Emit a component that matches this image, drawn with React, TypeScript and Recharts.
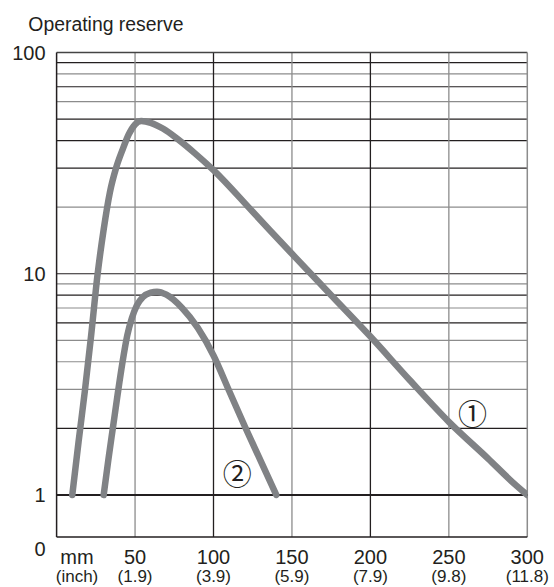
import React from 'react';
import { LineChart, Line, XAxis, YAxis, ReferenceLine, ReferenceDot } from 'recharts';

// ---- data ----
const distanceTicks = [13, 50, 100, 150, 200, 250, 300];
const mmLabels = ['mm', '50', '100', '150', '200', '250', '300'];
const inchLabels = ['(inch)', '(1.9)', '(3.9)', '(5.9)', '(7.9)', '(9.8)', '(11.8)'];

const reserveTicks = [0, 1, 10, 100];
const reserveLabels = ['0', '1', '10', '100'];

const verticalGrid = [50, 100, 150, 200, 250];
const horizontalGrid = [2, 3, 4, 5, 6, 7, 8, 9, 10, 20, 30, 40, 50, 60, 70, 80, 90];

const curve1Distance = [10, 14, 18, 22, 26, 30, 34, 38, 42, 46, 50, 54, 60, 68, 77, 88, 100, 125, 150, 175, 200, 225, 250, 275, 290, 300];
const curve1Reserve = [1, 1.74, 2.95, 5.25, 9.77, 15.85, 23.4, 30.2, 36.3, 42.7, 47.3, 49, 48.1, 45.2, 40.7, 35.1, 29.4, 19.05, 12.3, 8.0, 5.2, 3.31, 2.14, 1.46, 1.153, 1];

const curve2Distance = [30, 33, 36, 39, 42, 45, 48, 51, 55, 60, 64, 70, 80, 90, 100, 110, 120, 130, 140];
const curve2Reserve = [1, 1.445, 2.04, 2.88, 3.98, 5.25, 6.31, 7.16, 7.85, 8.22, 8.3, 8.04, 7.0, 5.69, 4.27, 2.95, 2.04, 1.43, 1];

const annotationLabels = ['\u2460', '\u2461'];
const annotationDistance = [265, 115.2];
const annotationReserve = [2.38, 1.27];

// ---- styles ----
const FLOOR = -0.19; // axis position of reserve 0 (linear band below 1)
const toAxis = (v: number) => (v >= 1 ? Math.log10(v) : FLOOR * (1 - v));

const DARK = '#231f20';
const GRAY = '#8c8c8c';
const CURVE = '#808285';
const FONT = '"Liberation Sans", Arial, sans-serif';
const darkHorizontal = new Set([2, 6, 8, 10, 30, 40, 50, 70, 90]);
const darkVertical = new Set([100, 200]);

const curve1 = curve1Distance.map((x, i) => ({ x, v: curve1Reserve[i] }));
const curve2 = curve2Distance.map((x, i) => ({ x, v: curve2Reserve[i] }));
const annotations = annotationLabels.map((t, i) => ({ t, x: annotationDistance[i], v: annotationReserve[i] }));

const XTick = (props: any) => {
  const { x, y, payload } = props;
  const i = distanceTicks.indexOf(payload.value);
  if (i < 0) return null;
  return (
    <g>
      <text x={x} y={y + 26.5} textAnchor="middle" fontSize={20} fill={DARK} fontFamily={FONT}>
        {mmLabels[i]}
      </text>
      <text x={x} y={y + 44.5} textAnchor="middle" fontSize={17} fill={DARK} fontFamily={FONT}>
        {inchLabels[i]}
      </text>
    </g>
  );
};

const YTick = (props: any) => {
  const { x, y, payload } = props;
  const i = reserveTicks.findIndex((t) => Math.abs(toAxis(t) - payload.value) < 1e-9);
  if (i < 0) return null;
  const isFloor = reserveTicks[i] === 0;
  return (
    <text x={x} y={y + (isFloor ? 19 : 7)} textAnchor="end" fontSize={20} fill={DARK} fontFamily={FONT}>
      {reserveLabels[i]}
    </text>
  );
};

const Title = () => (
  <text x={28.3} y={30.7} fontSize={19.4} fill={DARK} fontFamily={FONT}>
    Operating reserve
  </text>
);

export default function App() {
  return (
    <div style={{ position: 'absolute', left: 0, top: 0, background: '#fff' }}>
      <LineChart width={554} height={587} margin={{ top: 52.5, right: 26.7, bottom: 0, left: 0 }}>
        <XAxis
          type="number"
          dataKey="x"
          domain={[0, 300]}
          allowDataOverflow
          ticks={distanceTicks}
          interval={0}
          tickSize={0}
          tickMargin={0}
          tickLine={false}
          height={50}
          axisLine={{ stroke: DARK, strokeWidth: 1.5 }}
          tick={<XTick />}
        />
        <YAxis
          type="number"
          domain={[FLOOR, 2]}
          allowDataOverflow
          ticks={reserveTicks.map(toAxis)}
          interval={0}
          tickSize={0}
          tickMargin={11}
          tickLine={false}
          width={56.6}
          axisLine={{ stroke: DARK, strokeWidth: 1.5 }}
          tick={<YTick />}
          label={() => <Title />}
        />
        {horizontalGrid.map((g) => (
          <ReferenceLine
            key={'h' + g}
            y={toAxis(g)}
            stroke={darkHorizontal.has(g) ? DARK : GRAY}
            strokeWidth={1.2}
          />
        ))}
        {verticalGrid.map((g) => (
          <ReferenceLine key={'v' + g} x={g} stroke={darkVertical.has(g) ? DARK : GRAY} strokeWidth={1.3} />
        ))}
        <ReferenceLine y={2} stroke="#444" strokeWidth={1.3} />
        <ReferenceLine x={300} stroke={GRAY} strokeWidth={1.5} />
        <ReferenceLine y={toAxis(1)} stroke={DARK} strokeWidth={2} />
        <Line
          data={curve1}
          dataKey={(d: any) => toAxis(d.v)}
          type="monotone"
          stroke={CURVE}
          strokeWidth={6.5}
          strokeLinecap="round"
          strokeLinejoin="round"
          dot={false}
          activeDot={false}
          isAnimationActive={false}
        />
        <Line
          data={curve2}
          dataKey={(d: any) => toAxis(d.v)}
          type="monotone"
          stroke={CURVE}
          strokeWidth={6.5}
          strokeLinecap="round"
          strokeLinejoin="round"
          dot={false}
          activeDot={false}
          isAnimationActive={false}
        />
        {annotations.map((a) => (
          <ReferenceDot
            key={a.t}
            x={a.x}
            y={toAxis(a.v)}
            r={0}
            shape={(p: any) => (
              <text
                x={p.cx}
                y={p.cy}
                textAnchor="middle"
                dominantBaseline="central"
                fontSize={29}
                fill={DARK}
                fontFamily='"Noto Sans CJK JP", "DejaVu Sans", sans-serif'
              >
                {a.t}
              </text>
            )}
          />
        ))}
      </LineChart>
    </div>
  );
}
